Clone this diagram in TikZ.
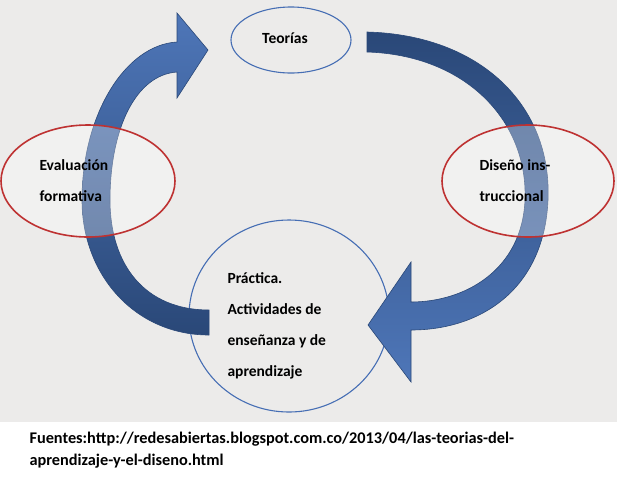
\documentclass[tikz,border=0pt]{standalone}
\usepackage{fontspec}
\setmainfont{Carlito}
\definecolor{arrlight}{RGB}{78,118,184}
\definecolor{arrdark}{RGB}{42,72,120}
\definecolor{ellblue}{RGB}{70,110,180}
\definecolor{ellred}{RGB}{190,50,50}
\definecolor{bg}{RGB}{236,235,234}
\begin{document}
\begin{tikzpicture}[x=1pt,y=-1pt,
  lbl/.style={font=\bfseries\fontsize{15.5}{31}\selectfont,align=left,text=black},
  bluell/.style={draw=ellblue,line width=1.1pt},
  redell/.style={draw=ellred,line width=1.6pt,fill=white,fill opacity=0.3}]
\useasboundingbox (0,0) rectangle (617,480);
\fill[white] (0,0) rectangle (617,480);
\fill[bg] (0,0) rectangle (617,422);
\draw[bluell] (289,316) ellipse[x radius=100,y radius=96];
% left arrow
\path[top color=arrlight,bottom color=arrdark,draw=arrdark,line width=0.6pt]
 (209,335) .. controls (135,335) and (82,275) .. (82,200)
 .. controls (82,115) and (125,45) .. (177,42)
 -- (177,13) -- (208,50) -- (177,98) -- (177,72)
 .. controls (135,75) and (110,130) .. (110,200)
 .. controls (110,265) and (145,310) .. (209,310) -- cycle;
% right arrow
\path[top color=arrdark,bottom color=arrlight,draw=arrdark,line width=0.6pt]
 (367,32) .. controls (480,35) and (552,105) .. (548,200)
 .. controls (544,290) and (480,330) .. (411,330)
 -- (411,382) -- (368,325) -- (411,262) -- (411,302)
 .. controls (465,302) and (522,270) .. (525,200)
 .. controls (528,120) and (465,55) .. (367,52) -- cycle;
% ellipses
\draw[bluell] (291,40) ellipse[x radius=60,y radius=33];
\draw[redell] (88,181) ellipse[x radius=87,y radius=56];
\draw[redell] (528,181) ellipse[x radius=86,y radius=56];
% texts
\node[lbl] (teo) at (285,38) {Teorías};
\node[lbl,anchor=west] (eva) at (36,181) {Evaluación\\formativa};
\node[lbl,anchor=west] (dis) at (476,181) {Diseño ins-\\truccional};
\node[lbl,anchor=west] (pra) at (224,326) {Práctica.\\Actividades de\\enseñanza y de\\aprendizaje};
\node[anchor=north west,align=left,font=\bfseries\fontsize{16.3}{22}\selectfont] (src) at (26,429)
 {Fuentes:http://redesabiertas.blogspot.com.co/2013/04/las-teorias-del-\\aprendizaje-y-el-diseno.html};
\end{tikzpicture}
\end{document}
